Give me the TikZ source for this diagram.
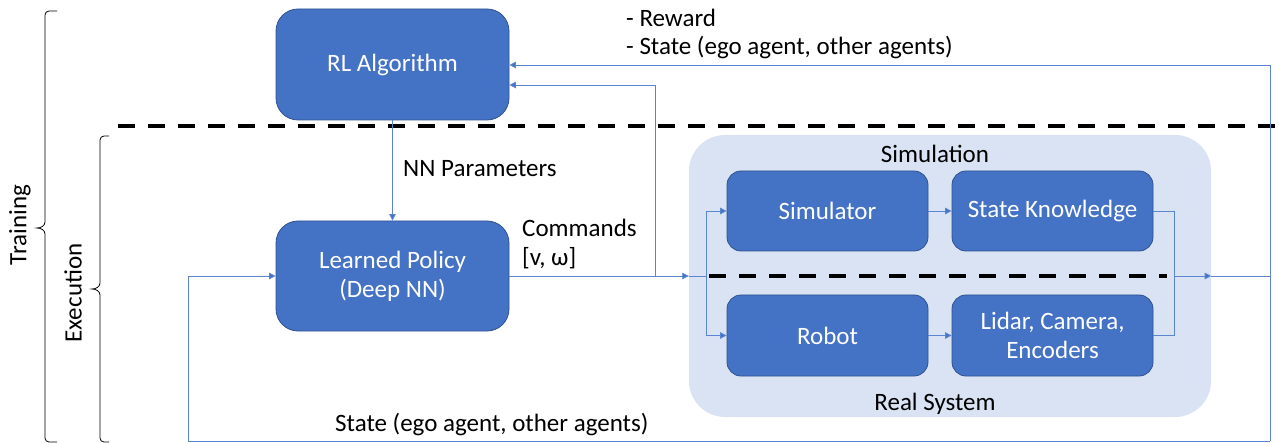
\documentclass[tikz,border=0pt]{standalone}
\usepackage{fontspec}
\setmainfont{Carlito}
\usetikzlibrary{arrows.meta,calc}
\definecolor{boxblue}{HTML}{4472C4}
\definecolor{boxedge}{HTML}{2F528F}
\definecolor{bigfill}{HTML}{DAE3F3}
\definecolor{linkblue}{HTML}{5B85D0}
\begin{document}
\begin{tikzpicture}[x=1pt,y=-1pt,
  font=\fontsize{25}{29}\selectfont,
  bluebox/.style={draw=boxedge,line width=0.8pt,fill=boxblue,text=white,rounded corners=22pt,
    align=center,inner sep=0pt},
  smallbox/.style={draw=boxedge,line width=0.8pt,fill=boxblue,text=white,rounded corners=14pt,
    align=center,inner sep=0pt,minimum width=201pt},
  link/.style={draw=linkblue,line width=0.8pt},
  arr/.style={link,-{Triangle[length=6.5pt,width=6.5pt,fill=boxblue]}},
  heavydash/.style={line width=4pt,dash pattern=on 17pt off 13pt},
  lbl/.style={inner sep=0pt,anchor=west}]
\useasboundingbox (0,0) rectangle (1281,443);
% big container
\node[fill=bigfill,rounded corners=36pt,minimum width=522pt,minimum height=282pt,inner sep=0pt] (big) at (950,276) {};
\node (simlbl) at (935,154) {Simulation};
\node (reallbl) at (935,404) {Real System};
% boxes
\node[bluebox,minimum width=233pt,minimum height=111pt] (rl) at (392.5,64.5) {RL Algorithm};
\node[bluebox,minimum width=233pt,minimum height=110pt] (pol) at (392.5,276) {Learned Policy\\(Deep NN)};
\node[smallbox,minimum height=80pt] (sim) at (827.5,211) {Simulator};
\node[smallbox,minimum height=80pt] (sk) at (1052.5,211) {State Knowledge};
\node[smallbox,minimum height=81pt] (rob) at (827.5,335.5) {Robot};
\node[smallbox,minimum height=81pt] (lid) at (1052.5,335.5) {Lidar, Camera,\\Encoders};
% dashed lines
\coordinate (d1a) at (118,126); \coordinate (d1b) at (1281,126);
\draw[heavydash] (d1a) -- (d1b);
\coordinate (d2a) at (709,276); \coordinate (d2b) at (1167,276);
\draw[heavydash] (d2a) -- (d2b);
% coordinates
\coordinate (br) at (655,276);
\coordinate (br2) at (655,85);
\coordinate (sp) at (706,276);
\coordinate (mg) at (1174,276);
\coordinate (mgt) at (1174,211);
\coordinate (mgb) at (1174,335.5);
\coordinate (rc) at (1270,276);
\coordinate (rtop) at (1270,65);
\coordinate (rbot) at (1270,441);
\coordinate (lbot) at (188,441);
% connectors
\draw[arr] (rl.south) -- (pol.north);
\draw[arr] (pol.east) -- (big.west);
\draw[link] (big.west) -- (sp);
\draw[arr] (br) -- (br2) -- (rl.east |- br2);
\draw[arr] (sp) |- (sim.west);
\draw[arr] (sp) |- (rob.west);
\draw[arr] (sim.east) -- (sk.west);
\draw[arr] (rob.east) -- (lid.west);
\draw[link] (sk.east) -- (mgt) -- (mgb) -- (lid.east);
\draw[arr] (mg) -- (big.east);
\draw[link] (big.east) -- (rc);
\draw[arr] (rbot) -- (rtop) -- (rl.east |- rtop);
\draw[arr] (rbot) -- (lbot) |- (pol.west);
% labels
\node[lbl] (rew) at (626,18) {- Reward};
\node[lbl] (st1) at (626,48) {- State (ego agent, other agents)};
\node[lbl] (nnp) at (403,169) {NN Parameters};
\node[lbl] (cmd) at (522,228) {Commands};
\node[lbl] (vw) at (522,258) {[v, ω]};
\node[lbl] (st2) at (335,425) {State (ego agent, other agents)};
% braces
\draw[line width=0.8pt] (57,11) -- (49,11) to[out=180,in=90] (45,15) -- (45,222) to[out=-90,in=0] (37,228) to[out=0,in=90] (45,234) -- (45,438) to[out=-90,in=180] (49,442) -- (57,442);
\draw[line width=0.8pt] (109,136) -- (104,136) to[out=180,in=90] (100,140) -- (100,283) to[out=-90,in=0] (92,289) to[out=0,in=90] (100,295) -- (100,438) to[out=-90,in=180] (104,442) -- (109,442);
\node[rotate=90] (trn) at (20,225) {Training};
\node[rotate=90] (exe) at (73,293) {Execution};
\end{tikzpicture}
\end{document}
